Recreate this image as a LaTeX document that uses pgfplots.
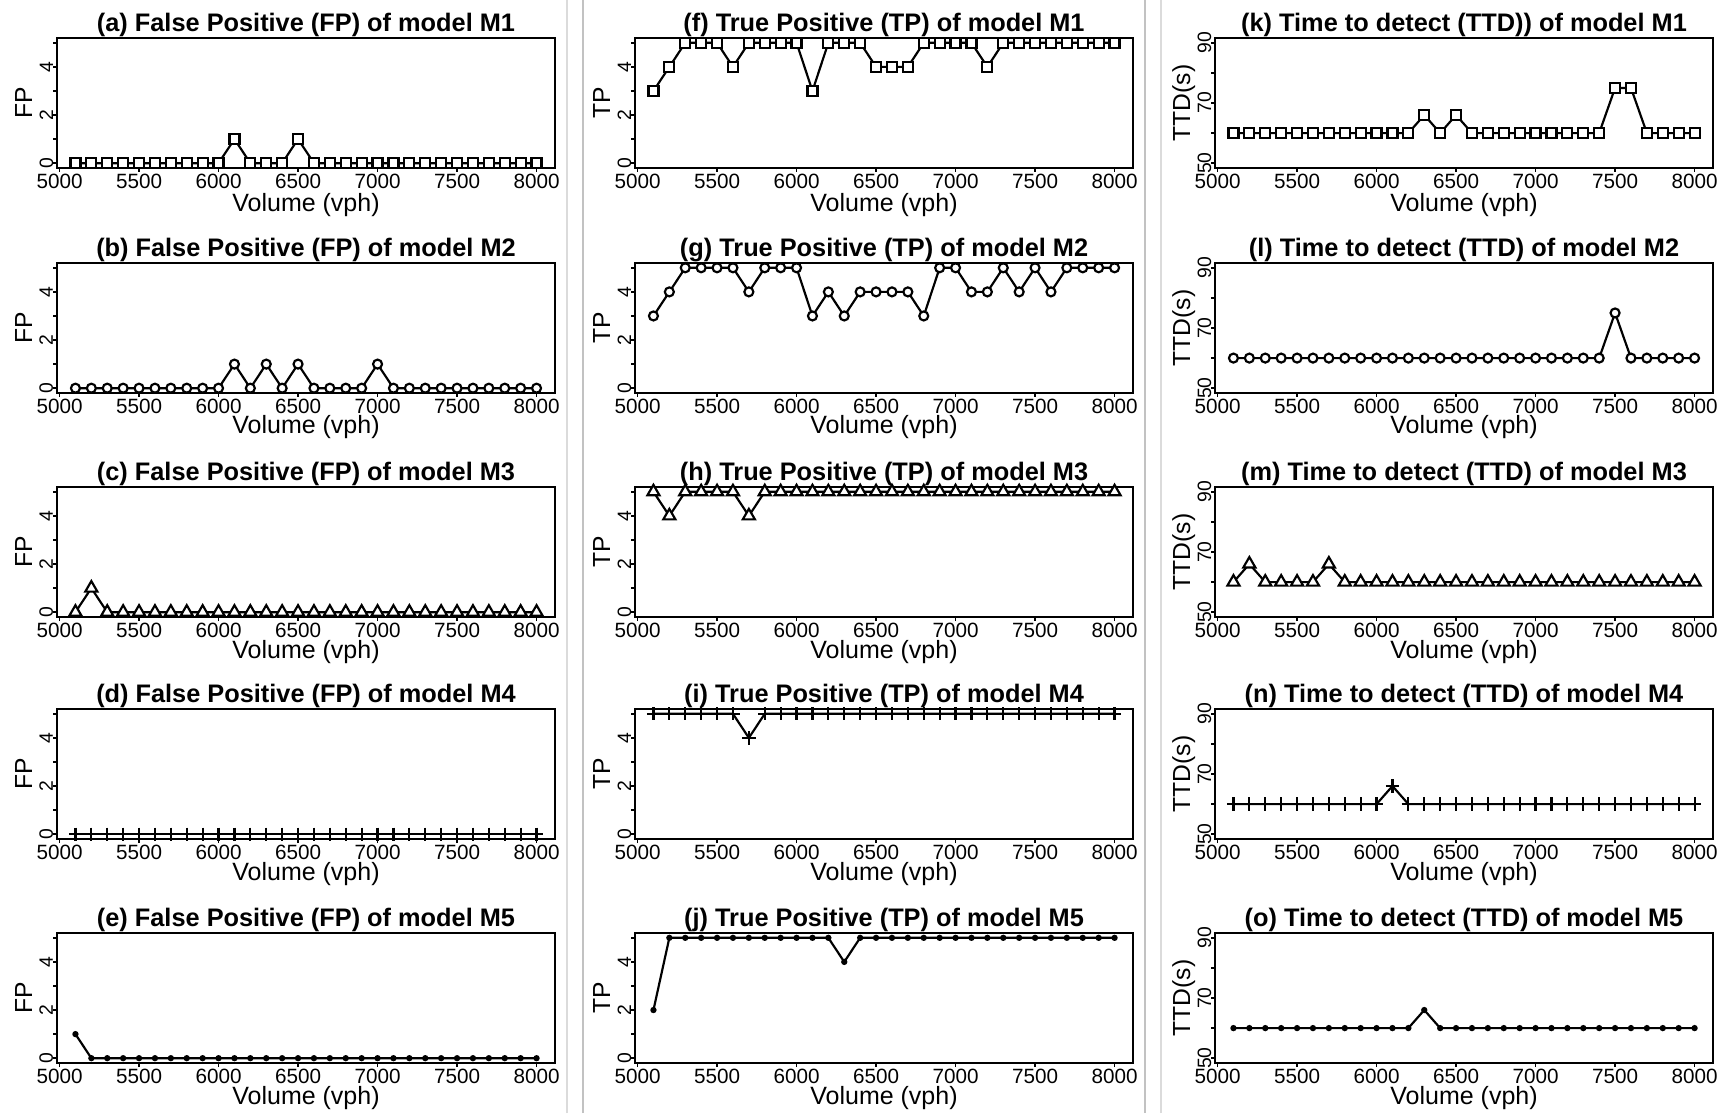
\documentclass[border=0pt]{standalone}
\usepackage{fontspec}
\setmainfont{Liberation Sans}
\usepackage{pgfplots}
\usepackage{pgfplotstable}
\pgfplotsset{compat=1.18}

\pgfplotstableread{
x    m1 m2 m3 m4 m5
5100 0 0 0 0 1
5200 0 0 1 0 0
5300 0 0 0 0 0
5400 0 0 0 0 0
5500 0 0 0 0 0
5600 0 0 0 0 0
5700 0 0 0 0 0
5800 0 0 0 0 0
5900 0 0 0 0 0
6000 0 0 0 0 0
6100 1 1 0 0 0
6200 0 0 0 0 0
6300 0 1 0 0 0
6400 0 0 0 0 0
6500 1 1 0 0 0
6600 0 0 0 0 0
6700 0 0 0 0 0
6800 0 0 0 0 0
6900 0 0 0 0 0
7000 0 1 0 0 0
7100 0 0 0 0 0
7200 0 0 0 0 0
7300 0 0 0 0 0
7400 0 0 0 0 0
7500 0 0 0 0 0
7600 0 0 0 0 0
7700 0 0 0 0 0
7800 0 0 0 0 0
7900 0 0 0 0 0
8000 0 0 0 0 0
}\fpdata

\pgfplotstableread{
x    m1 m2 m3 m4 m5
5100 3 3 5 5 2
5200 4 4 4 5 5
5300 5 5 5 5 5
5400 5 5 5 5 5
5500 5 5 5 5 5
5600 4 5 5 5 5
5700 5 4 4 4 5
5800 5 5 5 5 5
5900 5 5 5 5 5
6000 5 5 5 5 5
6100 3 3 5 5 5
6200 5 4 5 5 5
6300 5 3 5 5 4
6400 5 4 5 5 5
6500 4 4 5 5 5
6600 4 4 5 5 5
6700 4 4 5 5 5
6800 5 3 5 5 5
6900 5 5 5 5 5
7000 5 5 5 5 5
7100 5 4 5 5 5
7200 4 4 5 5 5
7300 5 5 5 5 5
7400 5 4 5 5 5
7500 5 5 5 5 5
7600 5 4 5 5 5
7700 5 5 5 5 5
7800 5 5 5 5 5
7900 5 5 5 5 5
8000 5 5 5 5 5
}\tpdata

\pgfplotstableread{
x    m1 m2 m3 m4 m5
5100 60 60 60 60 60
5200 60 60 66 60 60
5300 60 60 60 60 60
5400 60 60 60 60 60
5500 60 60 60 60 60
5600 60 60 60 60 60
5700 60 60 66 60 60
5800 60 60 60 60 60
5900 60 60 60 60 60
6000 60 60 60 60 60
6100 60 60 60 66 60
6200 60 60 60 60 60
6300 66 60 60 60 66
6400 60 60 60 60 60
6500 66 60 60 60 60
6600 60 60 60 60 60
6700 60 60 60 60 60
6800 60 60 60 60 60
6900 60 60 60 60 60
7000 60 60 60 60 60
7100 60 60 60 60 60
7200 60 60 60 60 60
7300 60 60 60 60 60
7400 60 60 60 60 60
7500 75 75 60 60 60
7600 75 60 60 60 60
7700 60 60 60 60 60
7800 60 60 60 60 60
7900 60 60 60 60 60
8000 60 60 60 60 60
}\ttddata

\pgfplotsset{
  panel/.style={
    scale only axis, width=149.4pt, height=39pt,
    xmin=4984, xmax=8116,
    xtick={5000,5500,6000,6500,7000,7500,8000},
    xticklabels={5000,5500,6000,6500,7000,7500,8000},
    tick align=outside, tick pos=left, major tick length=1.2pt,
    axis line style={line width=0.8pt},
    every tick/.style={black, line width=0.5pt},
    xticklabel style={font=\fontsize{6.2}{7}\selectfont, inner sep=0pt, yshift=-0.5pt},
    yticklabel style={font=\fontsize{5.8}{6.5}\selectfont, rotate=90, anchor=base, inner sep=0pt},
    xlabel={Volume (vph)},
    every axis x label/.style={at={(axis description cs:0.5,0)}, anchor=base, yshift=-12.3pt, font=\fontsize{7.5}{9}\selectfont},
    every axis y label/.style={at={(axis description cs:-0.05,0.5)}, anchor=base, rotate=90, font=\fontsize{7.4}{9}\selectfont},
    every axis title/.style={at={(axis description cs:0.5,1)}, anchor=base, yshift=2pt, font=\bfseries\fontsize{7.6}{9}\selectfont},
    clip=false, anchor=south west,
  },
  toprow/.style={every axis x label/.append style={yshift=-0.9pt}},
  cnt/.style={panel, ymin=-0.2, ymax=5.2, ytick={0,1,2,3,4,5}, yticklabels={0,,2,,4,}},
  ttd/.style={panel, ymin=48.4, ymax=91.6, ytick={50,60,70,80,90}, yticklabels={50,,70,,90}, ylabel={TTD(s)}},
  mA/.style={black, line width=0.65pt, mark=square*, mark size=1.5pt, mark options={solid, fill=white, line width=0.65pt}},
  mB/.style={black, line width=0.65pt, mark=*, mark size=1.35pt, mark options={solid, fill=white, line width=0.65pt}},
  mC/.style={black, line width=0.65pt, mark=triangle*, mark size=2.1pt, mark options={solid, fill=white, line width=0.65pt}},
  mD/.style={black, line width=0.65pt, mark=+, mark size=2pt, mark options={solid, line width=0.65pt}},
  mE/.style={black, line width=0.65pt, mark=*, mark size=0.6pt, mark options={solid, fill=black}},
}

\begin{document}
\begin{tikzpicture}
\draw[color=black!14, line width=0.5pt] (170.1pt,0.6pt) -- (170.1pt,334.5pt);
\draw[color=black!24, line width=0.5pt] (174.9pt,0.6pt) -- (174.9pt,334.5pt);
\draw[color=black!24, line width=0.5pt] (343.5pt,0.6pt) -- (343.5pt,334.5pt);
\draw[color=black!14, line width=0.5pt] (348.3pt,0.6pt) -- (348.3pt,334.5pt);

% Column 1: FP
\begin{axis}[cnt, toprow, at={(17.1pt,284.1pt)}, title={(a) False Positive (FP) of model M1}, ylabel={FP}]
\addplot[mA] table[x=x,y=m1]{\fpdata};
\end{axis}
\begin{axis}[cnt, at={(17.1pt,216.6pt)}, title={(b) False Positive (FP) of model M2}, ylabel={FP}]
\addplot[mB] table[x=x,y=m2]{\fpdata};
\end{axis}
\begin{axis}[cnt, at={(17.1pt,149.4pt)}, title={(c) False Positive (FP) of model M3}, ylabel={FP}]
\addplot[mC] table[x=x,y=m3]{\fpdata};
\end{axis}
\begin{axis}[cnt, at={(17.1pt,82.8pt)}, title={(d) False Positive (FP) of model M4}, ylabel={FP}]
\addplot[mD] table[x=x,y=m4]{\fpdata};
\end{axis}
\begin{axis}[cnt, at={(17.1pt,15.6pt)}, title={(e) False Positive (FP) of model M5}, ylabel={FP}]
\addplot[mE] table[x=x,y=m5]{\fpdata};
\end{axis}

% Column 2: TP
\begin{axis}[cnt, toprow, at={(190.5pt,284.1pt)}, title={(f) True Positive (TP) of model M1}, ylabel={TP}]
\addplot[mA] table[x=x,y=m1]{\tpdata};
\end{axis}
\begin{axis}[cnt, at={(190.5pt,216.6pt)}, title={(g) True Positive (TP) of model M2}, ylabel={TP}]
\addplot[mB] table[x=x,y=m2]{\tpdata};
\end{axis}
\begin{axis}[cnt, at={(190.5pt,149.4pt)}, title={(h) True Positive (TP) of model M3}, ylabel={TP}]
\addplot[mC] table[x=x,y=m3]{\tpdata};
\end{axis}
\begin{axis}[cnt, at={(190.5pt,82.8pt)}, title={(i) True Positive (TP) of model M4}, ylabel={TP}]
\addplot[mD] table[x=x,y=m4]{\tpdata};
\end{axis}
\begin{axis}[cnt, at={(190.5pt,15.6pt)}, title={(j) True Positive (TP) of model M5}, ylabel={TP}]
\addplot[mE] table[x=x,y=m5]{\tpdata};
\end{axis}

% Column 3: TTD
\begin{axis}[ttd, toprow, at={(364.5pt,284.1pt)}, title={(k) Time to detect (TTD)) of model M1}]
\addplot[mA] table[x=x,y=m1]{\ttddata};
\end{axis}
\begin{axis}[ttd, at={(364.5pt,216.6pt)}, title={(l) Time to detect (TTD) of model M2}]
\addplot[mB] table[x=x,y=m2]{\ttddata};
\end{axis}
\begin{axis}[ttd, at={(364.5pt,149.4pt)}, title={(m) Time to detect (TTD) of model M3}]
\addplot[mC] table[x=x,y=m3]{\ttddata};
\end{axis}
\begin{axis}[ttd, at={(364.5pt,82.8pt)}, title={(n) Time to detect (TTD) of model M4}]
\addplot[mD] table[x=x,y=m4]{\ttddata};
\end{axis}
\begin{axis}[ttd, at={(364.5pt,15.6pt)}, title={(o) Time to detect (TTD) of model M5}]
\addplot[mE] table[x=x,y=m5]{\ttddata};
\end{axis}

\pgfresetboundingbox
\path (0pt,0pt) rectangle (518.1pt,334.5pt);
\end{tikzpicture}
\end{document}
